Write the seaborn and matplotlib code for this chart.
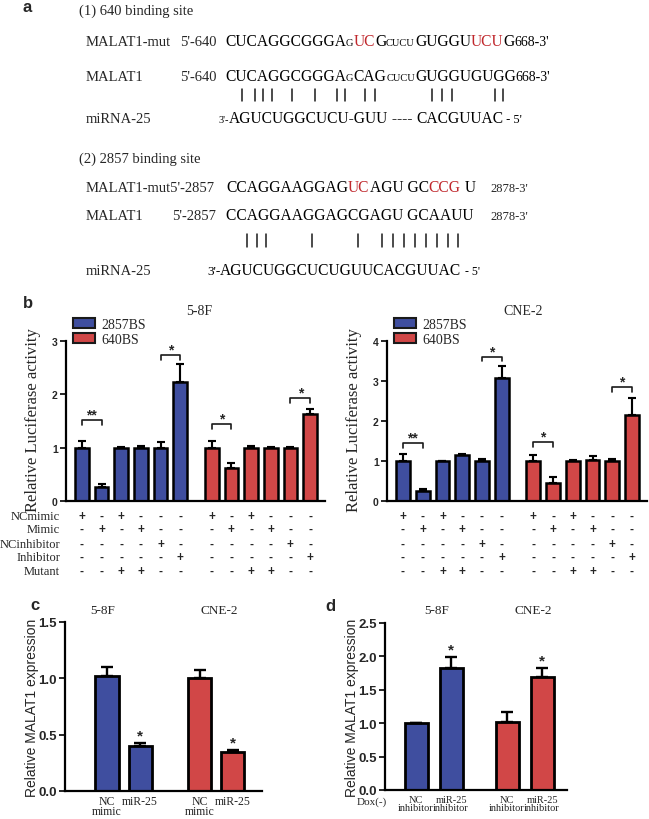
import numpy as np
import pandas as pd
import matplotlib
matplotlib.use('Agg')
import matplotlib.pyplot as plt
import matplotlib.transforms as mtrans
from matplotlib.lines import Line2D
from matplotlib.patches import Patch
import seaborn as sns

sns.set_theme(style='white')
plt.rcParams['font.family'] = ['Liberation Serif', 'DejaVu Sans']

W, H = 649, 820
BLUE = '#3F4E9F'
RED = '#D14747'
SERIF = 'Liberation Serif'
SANS = 'Liberation Sans'

# ---------------- data ----------------
b_series = ['2857BS'] * 6 + ['640BS'] * 6
b_58F_mean = [1.00, 0.26, 1.00, 1.00, 1.00, 2.23, 1.00, 0.62, 1.00, 1.00, 1.00, 1.63]
b_58F_err = [0.13, 0.05, 0.01, 0.03, 0.10, 0.33, 0.13, 0.10, 0.03, 0.01, 0.02, 0.09]
b_CNE2_mean = [1.00, 0.24, 1.00, 1.15, 1.00, 3.07, 1.00, 0.45, 1.00, 1.03, 1.00, 2.14]
b_CNE2_err = [0.17, 0.06, 0.01, 0.03, 0.04, 0.30, 0.15, 0.14, 0.03, 0.10, 0.04, 0.43]
cond_names = ['NCmimic', 'Mimic', 'NCinhibitor', 'Inhibitor', 'Mutant']
cond_nc_mimic = list('+-+---+-+---')
cond_mimic = list('-+-+---+-+--')
cond_nc_inhib = list('----+-----+-')
cond_inhib = list('-----+-----+')
cond_mutant = list('--++----++--')
b_sig_58F = [(0, 1, 1.51, '**'), (4, 5, 2.74, '*'), (6, 7, 1.44, '*'), (10, 11, 1.93, '*')]
b_sig_CNE2 = [(0, 1, 1.45, '**'), (4, 5, 3.61, '*'), (6, 7, 1.47, '*'), (10, 11, 2.84, '*')]

c_cells = ['5-8F', '5-8F', 'CNE-2', 'CNE-2']
c_labels = ['NC\nmimic', 'miR-25', 'NC\nmimic', 'miR-25']
c_mean = [1.02, 0.40, 1.00, 0.35]
c_err = [0.08, 0.03, 0.07, 0.01]
c_star = [False, True, False, True]

d_cells = ['5-8F', '5-8F', 'CNE-2', 'CNE-2']
d_labels = ['NC\ninhibitor', 'miR-25\ninhibitor', 'NC\ninhibitor', 'miR-25\ninhibitor']
d_mean = [1.00, 1.83, 1.02, 1.69]
d_err = [0.01, 0.16, 0.15, 0.13]
d_star = [False, True, False, True]

fig = plt.figure(figsize=(W / 100, H / 100), dpi=100)
fig.patch.set_facecolor('white')


def fx(x):
    return x / W


def fy(y):
    return 1 - y / H


def add_ax(l, r, t, b):
    return fig.add_axes([fx(l), fy(b), (r - l) / W, (b - t) / H])


# ---------------- panel a (sequence text) ----------------
renderer = fig.canvas.get_renderer()


def seq(x, y, segs):
    for txt, size, col in segs:
        t = fig.text(fx(x), fy(y), txt, fontsize=size, color=col, family=SERIF,
                     va='baseline', ha='left')
        bb = t.get_window_extent(renderer)
        x += bb.width
    return x


LG, SM, LB = 11.2, 7.5, 10.5
K = 'black'
R = '#C0282D'
Y1_MUT, Y1_WT, Y1_MI = 46, 81, 123
Y2_MUT, Y2_WT, Y2_MI = 192, 220, 275
fig.text(fx(27), fy(8), 'a', fontsize=12, fontweight='bold', family=SANS, ha='center', va='center')
fig.text(fx(79), fy(15), '(1) 640 binding site', fontsize=LB, family=SERIF, va='baseline')
# row 1
fig.text(fx(86), fy(Y1_MUT), 'MALAT1-mut', fontsize=LB, family=SERIF, va='baseline')
fig.text(fx(180), fy(Y1_MUT), "5'-640", fontsize=LB, family=SERIF, va='baseline')
seq(225, Y1_MUT, [('CUCAGGCGGGA', LG, K), ('G', SM, K), ('UC', LG, R), ('G', LG, K), ('CUCU', SM, K),
                  ('GUGGU', LG, K), ('UCU', LG, R), ('G', LG, K), ("668-3'", LB - 0.5, K)])
fig.text(fx(86), fy(Y1_WT), 'MALAT1', fontsize=LB, family=SERIF, va='baseline')
fig.text(fx(180), fy(Y1_WT), "5'-640", fontsize=LB, family=SERIF, va='baseline')
seq(225, Y1_WT, [('CUCAGGCGGGA', LG, K), ('G', SM, K), ('CAG', LG, K), ('CUCU', SM, K),
                 ('GUGGUGUGG', LG, K), ("668-3'", LB - 0.5, K)])
for px in [242, 255, 263, 272, 292, 315, 337, 345, 365, 375, 432, 442, 452, 495, 503]:
    fig.add_artist(Line2D([fx(px)] * 2, [fy(90), fy(102)], color='k', lw=1.1))
fig.text(fx(86), fy(Y1_MI), 'miRNA-25', fontsize=LB, family=SERIF, va='baseline')
seq(218, Y1_MI, [("3'-", SM, K), ('AGUCUGGCUCU-GUU', LG, K), (' ---- ', LG, K), ('CACGUUAC', LG, K),
                 (" - 5'", 9, K)])
# site 2
fig.text(fx(79), fy(163), '(2) 2857 binding site', fontsize=LB, family=SERIF, va='baseline')
fig.text(fx(86), fy(Y2_MUT), "MALAT1-mut5'-2857", fontsize=LB, family=SERIF, va='baseline')
seq(226, Y2_MUT, [('CCAGGAAGGAG', LG, K), ('UC', LG, R), ('AGU GC', LG, K), ('CCG', LG, R), (' U', LG, K)])
fig.text(fx(490), fy(Y2_MUT), "2878-3'", fontsize=LB - 1.5, family=SERIF, va='baseline')
fig.text(fx(86), fy(Y2_WT), 'MALAT1', fontsize=LB, family=SERIF, va='baseline')
fig.text(fx(172), fy(Y2_WT), "5'-2857", fontsize=LB, family=SERIF, va='baseline')
seq(226, Y2_WT, [('CCAGGAAGGAGCGAGU GCAAUU', LG, K)])
fig.text(fx(490), fy(Y2_WT), "2878-3'", fontsize=LB - 1.5, family=SERIF, va='baseline')
for px in [247, 257, 266, 312, 358, 382, 393, 404, 415, 426, 437, 448, 458]:
    fig.add_artist(Line2D([fx(px)] * 2, [fy(235), fy(248)], color='k', lw=1.1))
fig.text(fx(86), fy(Y2_MI), 'miRNA-25', fontsize=LB, family=SERIF, va='baseline')
seq(207, Y2_MI, [("3'-", 9.5, K), ('AGUCUGGCUCUGUUCACGUUAC', LG, K), (" - 5'", 8.5, K)])


# ---------------- helpers ----------------
def positions(n_per_group, gap):
    pos = []
    for g in range(2):
        for i in range(n_per_group):
            pos.append(g * gap + i)
    return pos


def style_ax(ax, tick_fs):
    sns.despine(ax=ax)
    for s in ['left', 'bottom']:
        ax.spines[s].set_linewidth(1.6)
        ax.spines[s].set_color('black')
    ax.tick_params(axis='y', length=4, width=1.4, direction='out', labelsize=tick_fs, pad=2, left=True)
    ax.tick_params(axis='x', length=0, labelbottom=False, bottom=False)
    for lab in ax.get_yticklabels():
        lab.set_fontweight('bold')
        lab.set_family(SANS)
    ax.set_xlabel('')
    ax.set_ylabel('')
    ax.set_facecolor('none')


def bars(ax, pos, mean, err, series, width, lw, cap):
    df = pd.DataFrame({'pos': pos, 'val': mean, 'series': series})
    sns.barplot(data=df, x='pos', y='val', hue='series', palette={'2857BS': BLUE, '640BS': RED,
                                                                 '5-8F': BLUE, 'CNE-2': RED},
                native_scale=True, dodge=False, width=width, edgecolor='black', linewidth=lw,
                errorbar=None, legend=False, ax=ax, saturation=1)
    ax.errorbar(pos, mean, yerr=[np.zeros(len(err)), err], fmt='none', ecolor='black',
                elinewidth=lw * 0.85, capsize=cap, capthick=lw * 0.85, zorder=5)


def bracket(ax, x1, x2, y, txt, h, fs):
    ax.plot([x1, x1, x2, x2], [y - h, y, y, y - h], color='k', lw=1.2, clip_on=False)
    ax.text((x1 + x2) / 2, y - h * 0.3, txt, ha='center', va='bottom', fontsize=fs,
            fontweight='bold', family=SANS)


# ---------------- panel b ----------------
fig.text(fx(28), fy(304), 'b', fontsize=12, fontweight='bold', family=SANS, ha='center', va='center')
bpos = positions(6, 6.6)
conds = [cond_nc_mimic, cond_mimic, cond_nc_inhib, cond_inhib, cond_mutant]
row_y = [517, 530, 545, 558, 572]

for k, (l, r, mean, err, ymax, title, tx, sig) in enumerate([
        (66, 325, b_58F_mean, b_58F_err, 3, '5-8F', 199, b_sig_58F),
        (387, 647, b_CNE2_mean, b_CNE2_err, 4, 'CNE-2', 523, b_sig_CNE2)]):
    ax = add_ax(l, r, 342, 502)
    bars(ax, bpos, mean, err, b_series, 0.7, 1.8, 3.0)
    ax.set_ylim(0, ymax)
    ax.set_yticks(range(0, ymax + 1))
    ax.set_xlim(-0.81, 11.6 + 0.76)
    style_ax(ax, 7.5)
    for (i, j, y, s) in sig:
        bracket(ax, bpos[i], bpos[j], y, s, ymax * 0.03, 10)
    fig.text(fx(tx), fy(312), title, fontsize=10, family=SERIF, ha='center', va='center')
    handles = [Patch(facecolor=BLUE, edgecolor='k', lw=1.5, label='2857BS'),
               Patch(facecolor=RED, edgecolor='k', lw=1.5, label='640BS')]
    ax.legend(handles=handles, loc='upper left', bbox_to_anchor=(fx(l + 7), fy(319)),
              bbox_transform=fig.transFigure, frameon=False, handlelength=1.55, handleheight=0.75,
              handletextpad=0.5, labelspacing=0.12, borderaxespad=0, borderpad=0,
              prop={'family': SERIF, 'size': 10})
    fig.text(fx(l - 33), fy(420), 'Relative Luciferase activity', rotation=90, fontsize=12,
             family=SERIF, ha='center', va='center')
    trans = mtrans.blended_transform_factory(ax.transData, fig.transFigure)
    for ri, row in enumerate(conds):
        for xi, s in zip(bpos, row):
            ax.text(xi, fy(row_y[ri]), s, transform=trans, ha='center', va='center', fontsize=8.5,
                    fontweight='bold', family=SANS, clip_on=False)
        if k == 0:
            fig.text(fx(60), fy(row_y[ri]), cond_names[ri], ha='right', va='center', fontsize=9,
                     family=SERIF)


# ---------------- panel c ----------------
fig.text(fx(35), fy(606), 'c', fontsize=12, fontweight='bold', family=SANS, ha='center', va='center')
cpos = positions(2, 2.8)
axc = add_ax(65, 262, 623, 792)
bars(axc, cpos, c_mean, c_err, c_cells, 0.7, 2.0, 4.3)
axc.set_ylim(0, 1.5)
axc.set_yticks([0, 0.5, 1.0, 1.5])
axc.set_yticklabels(['0.0', '0.5', '1.0', '1.5'])
axc.set_xlim(-1.27, 3.8 + 0.88)
style_ax(axc, 9.5)
for xi, m, e, st in zip(cpos, c_mean, c_err, c_star):
    if st:
        axc.text(xi, m + e + 0.005, '*', ha='center', va='bottom', fontsize=11, fontweight='bold',
                 family=SANS)
trc = mtrans.blended_transform_factory(axc.transData, fig.transFigure)
for xi, lab in zip(cpos, c_labels):
    axc.text(xi, fy(796), lab, transform=trc, ha='center', va='top', fontsize=8.5, family=SERIF,
             linespacing=0.8)
fig.text(fx(103), fy(611), '5-8F', fontsize=9.5, family=SERIF, ha='center', va='center')
fig.text(fx(219), fy(611), 'CNE-2', fontsize=9.5, family=SERIF, ha='center', va='center')
fig.text(fx(32), fy(708), 'Relative MALAT1 expression', rotation=90, fontsize=10, family=SANS,
         ha='center', va='center')

# ---------------- panel d ----------------
fig.text(fx(330), fy(607), 'd', fontsize=12, fontweight='bold', family=SANS, ha='center', va='center')
dpos = positions(2, 2.6)
axd = add_ax(385, 567, 624, 791)
bars(axd, dpos, d_mean, d_err, d_cells, 0.66, 2.0, 4.3)
axd.set_ylim(0, 2.5)
axd.set_yticks([0, 0.5, 1.0, 1.5, 2.0, 2.5])
axd.set_yticklabels(['0.0', '0.5', '1.0', '1.5', '2.0', '2.5'])
axd.set_xlim(-0.89, 3.6 + 0.71)
style_ax(axd, 9.5)
for xi, m, e, st in zip(dpos, d_mean, d_err, d_star):
    if st:
        axd.text(xi, m + e + 0.01, '*', ha='center', va='bottom', fontsize=11, fontweight='bold',
                 family=SANS)
trd = mtrans.blended_transform_factory(axd.transData, fig.transFigure)
for xi, lab in zip(dpos, d_labels):
    axd.text(xi, fy(796), lab, transform=trd, ha='center', va='top', fontsize=7.5, family=SERIF,
             linespacing=0.85)
fig.text(fx(372), fy(797), 'Dox(-)', fontsize=8, family=SERIF, ha='center', va='top')
fig.text(fx(437), fy(611), '5-8F', fontsize=9.5, family=SERIF, ha='center', va='center')
fig.text(fx(533), fy(611), 'CNE-2', fontsize=9.5, family=SERIF, ha='center', va='center')
fig.text(fx(352), fy(708), 'Relative MALAT1 expression', rotation=90, fontsize=10, family=SANS,
         ha='center', va='center')

fig.savefig('out.png', dpi=100, facecolor='white')
